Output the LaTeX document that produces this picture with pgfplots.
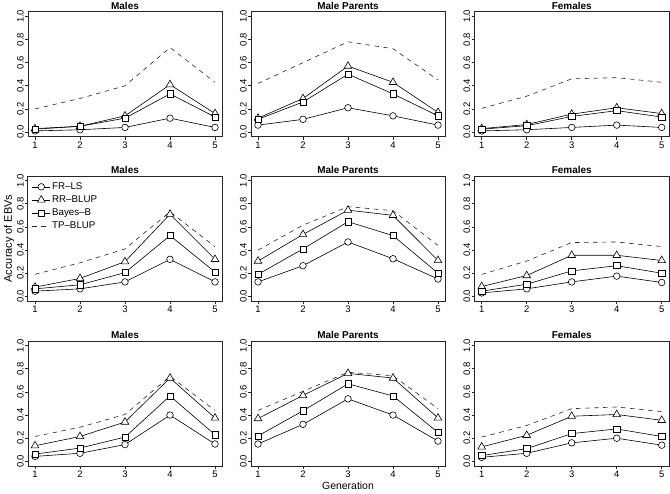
\documentclass[border=0pt]{standalone}
\usepackage{fontspec}
\setmainfont{Liberation Sans}
\usepackage{pgfplots}
\pgfplotsset{compat=1.18}

\pgfplotsset{
  every axis title/.style={at={(0.5,1)}, anchor=base, yshift=2.5bp,
    font=\bfseries\fontsize{10}{12}\selectfont},
  panel/.style={
    scale only axis, width=194.4bp, height=125bp, anchor=south west,
    xmin=0.84, xmax=5.16, ymin=-0.04, ymax=1.04,
    xtick={1,2,3,4,5}, ytick={0,0.2,0.4,0.6,0.8,1},
    tick align=outside, xtick pos=bottom, ytick pos=left,
    major tick length=3bp,
    axis line style={line width=0.6bp, black!85},
    every tick/.style={line width=0.6bp, black!85},
    /pgf/number format/assume math mode=true,
    ticklabel style={font=\fontsize{9.5}{10}\selectfont},
    yticklabel style={rotate=90, anchor=south, inner sep=1bp,
      /pgf/number format/fixed, /pgf/number format/fixed zerofill,
      /pgf/number format/precision=1},
    xticklabel style={inner sep=2bp},
    every axis plot/.append style={line width=0.6bp},
  },
  fr/.style={black, mark=*, mark size=3.3bp, mark options={fill=white, solid}},
  rr/.style={black, mark=triangle*, mark size=4.4bp, mark options={fill=white, solid}},
  bb/.style={black, mark=square*, mark size=3.1bp, mark options={fill=white, solid}},
  tp/.style={black!85, no markers, dash pattern=on 4.5bp off 4.5bp},
}

\begin{document}
\begin{tikzpicture}
\useasboundingbox (0,0) rectangle (670bp,494bp);

% ---------------- row 1 ----------------
\begin{axis}[panel, at={(27.8bp,357.3bp)}, title={Males}]
\addplot[fr] coordinates {(1,0.01) (2,0.02) (3,0.04) (4,0.12) (5,0.04)};
\addplot[rr] coordinates {(1,0.03) (2,0.05) (3,0.14) (4,0.41) (5,0.16)};
\addplot[bb] coordinates {(1,0.025) (2,0.05) (3,0.12) (4,0.33) (5,0.13)};
\addplot[tp] coordinates {(1,0.20) (2,0.29) (3,0.40) (4,0.73) (5,0.43)};
\end{axis}

\begin{axis}[panel, at={(250.8bp,357.3bp)}, title={Male Parents}]
\addplot[fr] coordinates {(1,0.06) (2,0.11) (3,0.21) (4,0.14) (5,0.06)};
\addplot[rr] coordinates {(1,0.12) (2,0.29) (3,0.57) (4,0.43) (5,0.17)};
\addplot[bb] coordinates {(1,0.11) (2,0.26) (3,0.50) (4,0.33) (5,0.14)};
\addplot[tp] coordinates {(1,0.42) (2,0.60) (3,0.78) (4,0.72) (5,0.45)};
\end{axis}

\begin{axis}[panel, at={(474.5bp,357.3bp)}, title={Females}]
\addplot[fr] coordinates {(1,0.01) (2,0.02) (3,0.04) (4,0.06) (5,0.04)};
\addplot[rr] coordinates {(1,0.03) (2,0.065) (3,0.155) (4,0.21) (5,0.16)};
\addplot[bb] coordinates {(1,0.025) (2,0.055) (3,0.135) (4,0.185) (5,0.13)};
\addplot[tp] coordinates {(1,0.205) (2,0.31) (3,0.46) (4,0.47) (5,0.43)};
\end{axis}

% ---------------- row 2 ----------------
\begin{axis}[panel, at={(27.8bp,193bp)}, title={Males},
  ylabel={Accuracy of EBVs},
  ylabel style={at={(axis description cs:0,0.5)}, anchor=base, yshift=15.8bp,
    font=\fontsize{11}{12}\selectfont},
  legend style={draw=none, fill=none, at={(axis description cs:0,1)},
    anchor=north west, xshift=1bp, yshift=-3bp, row sep=1.8bp,
    font=\fontsize{9.8}{10}\selectfont, nodes={inner sep=1.5bp},
    every odd column/.append style={column sep=4.5bp}},
  legend cell align=left,
  legend image code/.code={\draw[mark repeat=2, mark phase=2, #1]
    plot coordinates {(0bp,0bp) (9bp,0bp) (18bp,0bp)};},
  every axis legend/.append style={/tikz/every mark/.append style={scale=0.85}}]
\addplot[fr] coordinates {(1,0.045) (2,0.065) (3,0.125) (4,0.32) (5,0.125)};
\addplot[rr] coordinates {(1,0.08) (2,0.155) (3,0.30) (4,0.71) (5,0.32)};
\addplot[bb] coordinates {(1,0.065) (2,0.10) (3,0.205) (4,0.525) (5,0.21)};
\addplot[tp] coordinates {(1,0.19) (2,0.29) (3,0.41) (4,0.73) (5,0.43)};
\legend{FR--LS, RR--BLUP, Bayes--B, TP--BLUP}
\end{axis}

\begin{axis}[panel, at={(250.8bp,193bp)}, title={Male Parents}]
\addplot[fr] coordinates {(1,0.125) (2,0.265) (3,0.47) (4,0.325) (5,0.15)};
\addplot[rr] coordinates {(1,0.305) (2,0.535) (3,0.745) (4,0.70) (5,0.31)};
\addplot[bb] coordinates {(1,0.19) (2,0.41) (3,0.645) (4,0.525) (5,0.20)};
\addplot[tp] coordinates {(1,0.40) (2,0.615) (3,0.775) (4,0.74) (5,0.44)};
\end{axis}

\begin{axis}[panel, at={(474.5bp,193bp)}, title={Females}]
\addplot[fr] coordinates {(1,0.03) (2,0.065) (3,0.125) (4,0.175) (5,0.12)};
\addplot[rr] coordinates {(1,0.085) (2,0.18) (3,0.355) (4,0.355) (5,0.31)};
\addplot[bb] coordinates {(1,0.045) (2,0.105) (3,0.22) (4,0.265) (5,0.20)};
\addplot[tp] coordinates {(1,0.19) (2,0.305) (3,0.465) (4,0.47) (5,0.43)};
\end{axis}

% ---------------- row 3 ----------------
\begin{axis}[panel, at={(27.8bp,28bp)}, title={Males}]
\addplot[fr] coordinates {(1,0.043) (2,0.07) (3,0.145) (4,0.40) (5,0.15)};
\addplot[rr] coordinates {(1,0.135) (2,0.215) (3,0.34) (4,0.72) (5,0.375)};
\addplot[bb] coordinates {(1,0.063) (2,0.115) (3,0.21) (4,0.565) (5,0.23)};
\addplot[tp] coordinates {(1,0.215) (2,0.295) (3,0.405) (4,0.735) (5,0.44)};
\end{axis}

\begin{axis}[panel, at={(250.8bp,28bp)}, title={Male Parents},
  xlabel={Generation},
  xlabel style={at={(axis description cs:0.5,0)}, anchor=base, yshift=-23.5bp,
    font=\fontsize{10.5}{12}\selectfont}]
\addplot[fr] coordinates {(1,0.15) (2,0.32) (3,0.54) (4,0.40) (5,0.175)};
\addplot[rr] coordinates {(1,0.37) (2,0.57) (3,0.76) (4,0.72) (5,0.375)};
\addplot[bb] coordinates {(1,0.22) (2,0.437) (3,0.67) (4,0.565) (5,0.25)};
\addplot[tp] coordinates {(1,0.44) (2,0.605) (3,0.77) (4,0.74) (5,0.455)};
\end{axis}

\begin{axis}[panel, at={(474.5bp,28bp)}, title={Females}]
\addplot[fr] coordinates {(1,0.035) (2,0.07) (3,0.16) (4,0.20) (5,0.14)};
\addplot[rr] coordinates {(1,0.125) (2,0.225) (3,0.39) (4,0.405) (5,0.355)};
\addplot[bb] coordinates {(1,0.05) (2,0.11) (3,0.24) (4,0.28) (5,0.215)};
\addplot[tp] coordinates {(1,0.21) (2,0.31) (3,0.455) (4,0.47) (5,0.43)};
\end{axis}
\end{tikzpicture}
\end{document}
